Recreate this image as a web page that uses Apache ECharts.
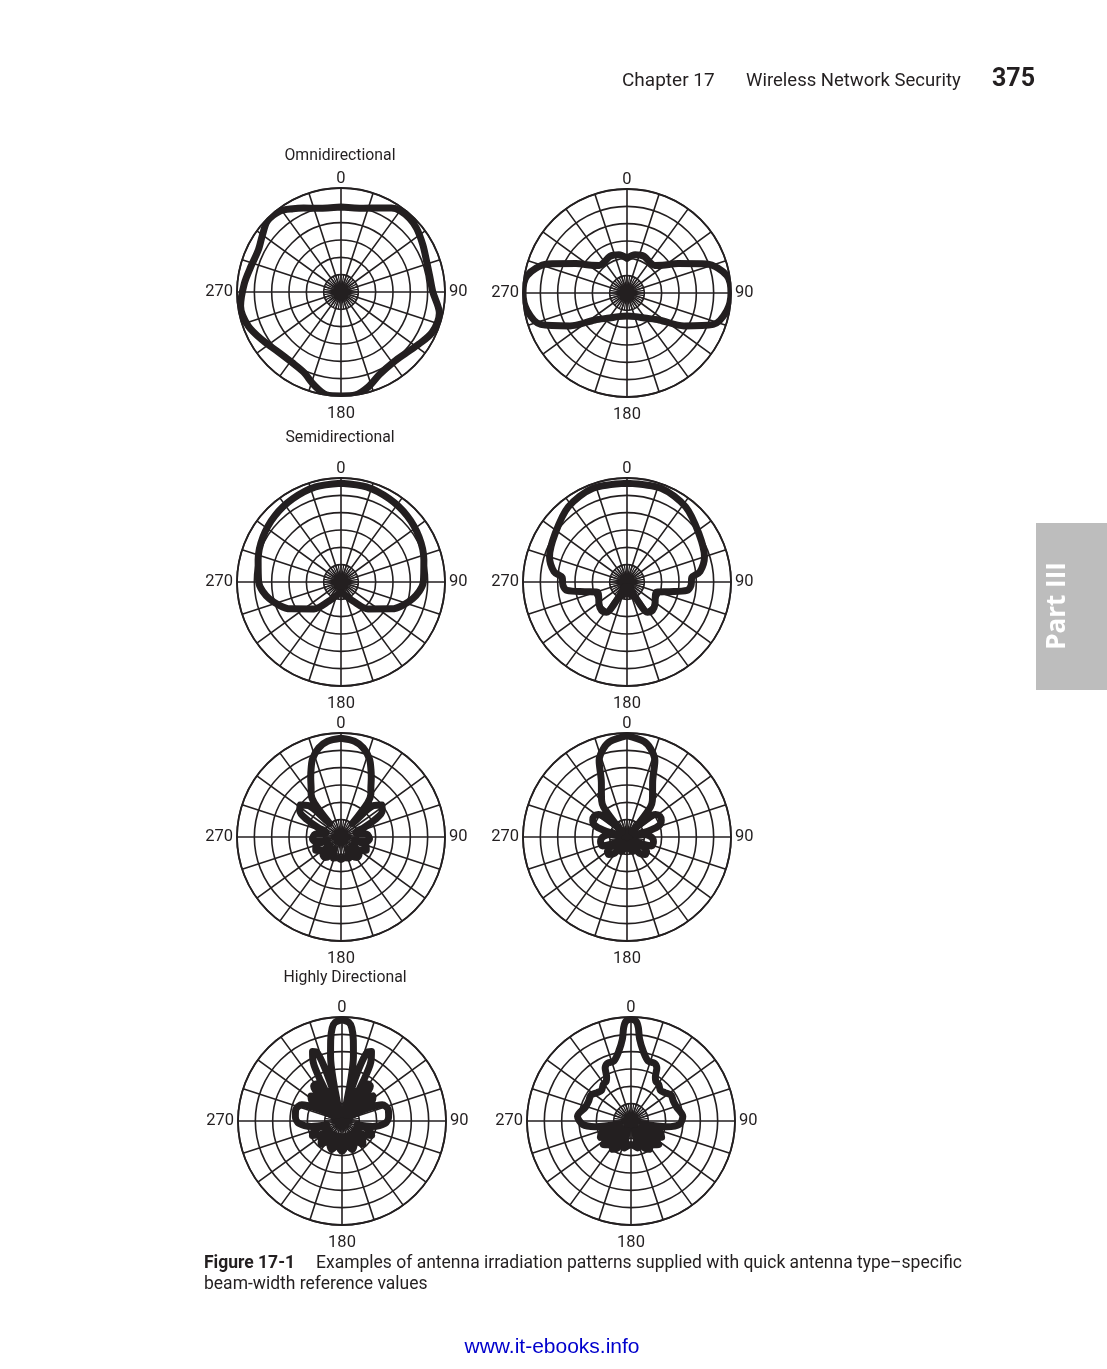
<!DOCTYPE html>
<html><head><meta charset="utf-8">
<script src="https://cdn.jsdelivr.net/npm/echarts@6/dist/echarts.min.js"></script>
<style>html,body{margin:0;padding:0;background:#fff}#c{width:1107px;height:1369px}</style>
</head><body><div id="c"></div>
<script>
// ---- data: radiation patterns, angle in degrees (clockwise from 0 at top), radius in grid rings (0..6)
const ringMax = 6;
const angleLabels = [0, 90, 180, 270];
const sectionTitles = ["Omnidirectional", "Semidirectional", "Highly Directional"];

const omniA_ang = [0, 15, 25, 31, 36, 43, 50, 60, 70, 80, 90, 102, 114, 124, 133, 143, 155, 164, 172, 180, 188, 196, 205, 215, 226, 238, 250, 262, 275, 286, 297, 306, 314, 323, 330, 336, 345, 360];
const omniA_r   = [4.9, 5.0, 5.35, 5.65, 5.8, 5.8, 5.7, 5.45, 5.25, 5.2, 5.3, 5.8, 5.75, 5.4, 5.15, 5.05, 5.25, 5.7, 6.0, 6.0, 6.0, 5.6, 5.1, 4.95, 5.0, 5.3, 5.7, 5.85, 5.6, 5.4, 5.35, 5.6, 5.9, 5.85, 5.55, 5.3, 5.0, 4.9];

const omniB_ang = [0, 12, 25, 38, 45, 52, 60, 70, 80, 90, 100, 110, 120, 130, 145, 160, 180, 200, 215, 230, 240, 250, 260, 270, 280, 290, 300, 308, 315, 322, 335, 348, 360];
const omniB_r   = [2.0, 2.25, 2.33, 2.2, 2.25, 2.6, 3.4, 4.9, 5.85, 6.0, 5.85, 5.3, 3.8, 2.42, 1.76, 1.45, 1.33, 1.45, 1.76, 2.42, 3.8, 5.3, 5.85, 6.0, 5.85, 4.9, 3.4, 2.6, 2.25, 2.2, 2.33, 2.25, 2.0];

const semiA_ang = [0, 15, 30, 45, 60, 75, 90, 103, 118, 135, 148, 165, 180, 195, 212, 225, 242, 257, 270, 285, 300, 315, 330, 345, 360];
const semiA_r   = [5.7, 5.68, 5.55, 5.4, 5.2, 4.95, 4.75, 4.25, 3.3, 2.2, 1.3, 0.75, 0.6, 0.75, 1.3, 2.2, 3.3, 4.25, 4.75, 4.95, 5.2, 5.4, 5.55, 5.68, 5.7];

const semiB_ang = [0, 20, 38, 56, 72, 82, 86, 93, 98, 103, 109, 118, 128, 138, 146, 150, 153, 162, 170, 180, 190, 198, 207, 210, 214, 222, 232, 242, 251, 257, 262, 267, 274, 278, 288, 304, 322, 340, 360];
const semiB_r   = [5.7, 5.75, 5.5, 5.0, 4.7, 4.25, 3.75, 3.7, 3.5, 2.5, 1.8, 1.85, 2.05, 2.2, 2.1, 1.4, 0.3, 0.8, 0.7, 0.5, 0.7, 0.8, 0.3, 1.4, 2.1, 2.2, 2.05, 1.85, 1.8, 2.5, 3.5, 3.7, 3.75, 4.25, 4.7, 5.0, 5.5, 5.75, 5.7];

const dirA_ang = [0, 8, 14, 20, 24, 27, 31, 35, 38, 40, 42, 46, 52, 58, 63, 68, 72, 76, 84, 94, 100, 104, 110, 118, 124, 128, 134, 142, 148, 152, 160, 170, 180, 190, 200, 208, 212, 218, 226, 232, 236, 242, 250, 256, 260, 266, 276, 284, 288, 292, 297, 302, 308, 314, 318, 320, 322, 325, 329, 333, 336, 340, 346, 352, 360];
const dirA_r   = [5.7, 5.58, 5.3, 4.8, 4.25, 3.85, 3.35, 3.0, 2.5, 1.0, 1.3, 2.6, 3.0, 2.8, 2.2, 1.4, 0.9, 0.9, 1.5, 1.65, 1.5, 0.8, 1.55, 1.65, 1.4, 0.8, 1.45, 1.5, 1.3, 0.8, 1.3, 1.2, 1.3, 1.2, 1.3, 0.8, 1.3, 1.5, 1.45, 0.8, 1.4, 1.65, 1.55, 0.8, 1.5, 1.65, 1.5, 0.9, 0.9, 1.4, 2.2, 2.8, 3.0, 2.6, 1.3, 1.0, 2.5, 3.0, 3.35, 3.85, 4.25, 4.8, 5.3, 5.58, 5.7];

const dirB_ang = [0, 10, 15, 20, 25, 30, 35, 38, 41, 43, 47, 52, 58, 64, 70, 74, 77, 82, 90, 100, 110, 118, 126, 134, 142, 150, 158, 168, 180, 192, 202, 210, 218, 226, 234, 242, 250, 260, 270, 278, 283, 286, 290, 296, 302, 308, 313, 317, 319, 322, 325, 330, 335, 340, 345, 350, 360];
const dirB_r   = [5.85, 5.6, 5.27, 4.7, 3.5, 2.95, 2.55, 2.2, 1.0, 0.4, 1.5, 2.1, 2.25, 2.2, 2.0, 1.4, 0.5, 1.0, 1.4, 1.55, 1.5, 0.5, 1.4, 1.45, 1.2, 0.4, 0.9, 0.7, 0.6, 0.7, 0.9, 0.4, 1.2, 1.45, 1.4, 0.5, 1.5, 1.55, 1.4, 1.0, 0.5, 1.4, 2.0, 2.2, 2.25, 2.1, 1.5, 0.4, 1.0, 2.2, 2.55, 2.95, 3.5, 4.7, 5.27, 5.6, 5.85];

const highA_ang = [0, 4, 6, 8, 10, 12, 14, 15, 16, 18, 20, 23, 26, 28, 30, 31, 32, 35, 39, 42, 44, 47, 51, 56, 60, 63, 68, 76, 85, 93, 100, 104, 108, 116, 122, 126, 130, 138, 144, 148, 152, 160, 166, 170, 174, 180, 186, 190, 194, 200, 208, 212, 216, 222, 230, 234, 238, 244, 252, 256, 260, 267, 275, 284, 292, 297, 300, 304, 309, 313, 316, 318, 321, 325, 328, 329, 330, 332, 334, 337, 340, 342, 344, 345, 346, 348, 350, 352, 354, 356, 360];
const highA_r   = [5.85, 5.7, 5.4, 4.7, 3.8, 2.5, 1.0, 0.4, 1.5, 3.2, 4.2, 4.35, 3.8, 2.6, 1.0, 0.4, 1.5, 2.6, 2.6, 1.5, 0.5, 1.5, 2.3, 2.1, 0.6, 1.5, 2.5, 2.75, 2.7, 2.5, 1.8, 0.9, 1.6, 1.9, 1.5, 0.9, 1.5, 1.8, 1.4, 0.9, 1.5, 1.75, 1.4, 0.9, 1.5, 1.75, 1.5, 0.9, 1.4, 1.75, 1.5, 0.9, 1.4, 1.8, 1.5, 0.9, 1.5, 1.9, 1.6, 0.9, 1.8, 2.5, 2.7, 2.75, 2.5, 1.5, 0.6, 2.1, 2.3, 1.5, 0.5, 1.5, 2.6, 2.6, 1.5, 0.4, 1.0, 2.6, 3.8, 4.35, 4.2, 3.2, 1.5, 0.4, 1.0, 2.5, 3.8, 4.7, 5.4, 5.7, 5.85];

const highB_ang = [0, 3, 4.5, 6, 10, 16, 22, 26, 29, 32, 37, 44, 50, 57, 65, 73, 85, 94, 99, 104, 110, 118, 124, 130, 136, 141, 147, 154, 160, 166, 173, 180, 187, 194, 200, 206, 213, 219, 224, 230, 236, 242, 250, 256, 261, 266, 275, 287, 295, 303, 310, 316, 323, 328, 331, 334, 338, 344, 350, 354, 355.5, 357, 360];
const highB_r   = [5.9, 5.75, 5.4, 4.75, 4.08, 3.6, 3.6, 3.4, 2.9, 2.7, 2.65, 2.45, 2.55, 2.75, 2.7, 2.75, 3.0, 2.8, 2.1, 0.7, 1.75, 2.0, 0.7, 2.1, 1.9, 0.7, 1.95, 1.7, 0.6, 1.6, 1.45, 1.36, 1.45, 1.6, 0.6, 1.7, 1.95, 0.7, 1.9, 2.1, 0.7, 2.0, 1.75, 0.7, 2.1, 2.8, 3.1, 2.75, 2.7, 2.75, 2.55, 2.45, 2.65, 2.7, 2.9, 3.4, 3.6, 3.6, 4.08, 4.75, 5.4, 5.75, 5.9];

const patterns = [
  [omniA_ang, omniA_r], [omniB_ang, omniB_r],
  [semiA_ang, semiA_r], [semiB_ang, semiB_r],
  [dirA_ang, dirA_r], [dirB_ang, dirB_r],
  [highA_ang, highA_r], [highB_ang, highB_r]
];

// ---- layout (positions / sizes / styles)
const centers = [[341,292],[627,293],[341,582],[627,582],[341,837],[627,837],[342,1121],[631,1121]];
const R = 104;
const INK = '#231f20';
const FONT = 'Roboto';

const chart = echarts.init(document.getElementById('c'), null, {renderer: 'canvas'});

const labelKey = {0: 't', 90: 'r', 180: 'b', 270: 'l'};
const polar = [], angleAxis = [], radiusAxis = [], series = [];
centers.forEach((c, i) => {
  polar.push({center: c, radius: R});
  angleAxis.push({
    polarIndex: i, type: 'value', min: 0, max: 360, interval: 18, startAngle: 90, clockwise: true,
    axisLine: {show: true, lineStyle: {color: INK, width: 1.8}},
    axisTick: {show: false},
    splitLine: {show: true, lineStyle: {color: INK, width: 1.6}},
    axisLabel: {show: true, margin: 1, color: INK, fontSize: 16.5, fontFamily: FONT,
      formatter: v => angleLabels.includes(v) ? '{' + labelKey[v] + '|' + v + '}' : '',
      rich: {
        t: {fontSize: 16.5, fontFamily: FONT, color: INK, padding: [0, 0, 0, 0]},
        b: {fontSize: 16.5, fontFamily: FONT, color: INK, padding: [8, 0, 0, 0]},
        r: {fontSize: 16.5, fontFamily: FONT, color: INK, padding: [0, 0, 0, 3]},
        l: {fontSize: 16.5, fontFamily: FONT, color: INK, padding: [0, 3, 0, 0]}
      }}
  });
  radiusAxis.push({
    polarIndex: i, type: 'value', min: 0, max: ringMax, interval: 1,
    axisLine: {show: false}, axisTick: {show: false}, axisLabel: {show: false},
    splitLine: {show: true, lineStyle: {color: INK, width: 1.6}}
  });
});
centers.forEach((c, i) => {
  const k = centers.length + i;
  polar.push({center: c, radius: R / ringMax});
  angleAxis.push({
    polarIndex: k, type: 'value', min: 0, max: 360, interval: 9, startAngle: 90, clockwise: true,
    axisLine: {show: false}, axisTick: {show: false}, axisLabel: {show: false},
    splitLine: {show: true, lineStyle: {color: INK, width: 1.3}}
  });
  radiusAxis.push({
    polarIndex: k, type: 'value', min: 0, max: 1,
    axisLine: {show: false}, axisTick: {show: false}, axisLabel: {show: false}, splitLine: {show: false}
  });
});

patterns.forEach(([ang, rad], i) => {
  series.push({
    type: 'line', coordinateSystem: 'polar', polarIndex: i, clip: false,
    symbol: 'none', smooth: 0.3, z: 5,
    lineStyle: {color: INK, width: 7, join: 'round', cap: 'round'},
    data: ang.map((a, k) => [rad[k], a])
  });
});

const txt = (x, y, text, opt) => ({type: 'text', x, y, style: Object.assign({text, fill: INK, fontFamily: FONT, fontSize: 15.8, textAlign: 'center', textVerticalAlign: 'middle'}, opt || {})});

const graphic = [
  txt(622, 81, 'Chapter 17', {textAlign: 'left', fontSize: 19}),
  txt(746, 81, 'Wireless Network Security', {textAlign: 'left', fontSize: 18.5}),
  txt(992, 80, '375', {textAlign: 'left', fontSize: 25, fontWeight: 'bold'}),
  txt(340, 156, sectionTitles[0]),
  txt(340, 438, sectionTitles[1]),
  txt(345, 978, sectionTitles[2]),
  txt(204, 1264, 'Figure 17-1', {textAlign: 'left', fontSize: 17.5, fontWeight: 'bold'}),
  txt(316, 1264, 'Examples of antenna irradiation patterns supplied with quick antenna type–specific', {textAlign: 'left', fontSize: 17.5}),
  txt(204, 1285, 'beam-width reference values', {textAlign: 'left', fontSize: 17.5}),
  txt(552, 1347, 'www.it-ebooks.info', {fill: '#0000cc', fontFamily: 'Liberation Sans', fontSize: 21}),
  {type: 'rect', shape: {x: 1036, y: 523, width: 71, height: 167}, style: {fill: '#bdbdbd'}},
  {type: 'text', x: 1058, y: 606, rotation: Math.PI / 2,
    style: {text: 'Part III', fill: '#ffffff', fontFamily: 'Open Sans', fontWeight: 'bold', fontSize: 26, textAlign: 'center', textVerticalAlign: 'middle'}}
];

chart.setOption({
  animation: false,
  backgroundColor: '#ffffff',
  polar, angleAxis, radiusAxis, series, graphic
});
</script>
</body></html>
